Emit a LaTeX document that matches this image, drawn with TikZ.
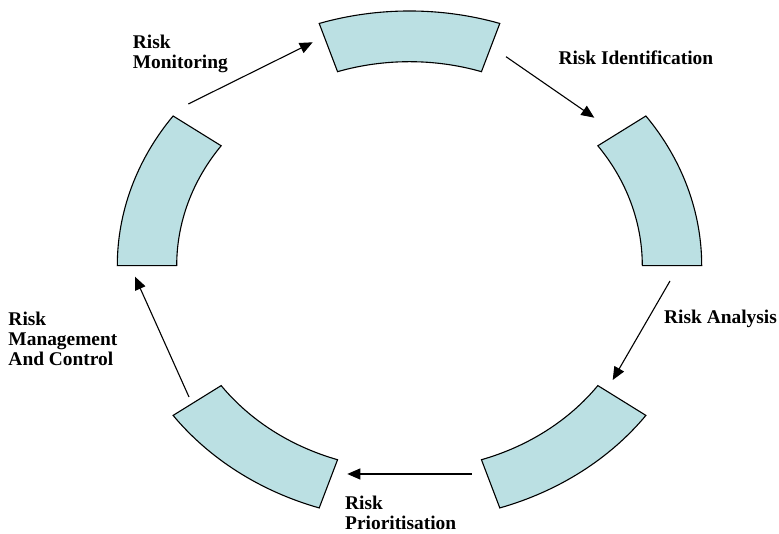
\documentclass[tikz,border=0pt]{standalone}
\usepackage{fontspec}
\setmainfont{Liberation Serif}
\usetikzlibrary{arrows.meta}
\definecolor{segfill}{RGB}{187,224,227}
\begin{document}
\begin{tikzpicture}[x=1pt,y=1pt,
  seg/.style={draw=black, line width=1.1pt, fill=segfill, line join=miter},
  flow/.style={draw=black, line width=1.1pt, -{Triangle[length=13pt,width=11pt]}},
  lbl/.style={font=\bfseries\fontsize{19.4}{20}\selectfont, align=left, inner sep=0pt, anchor=base west}]
\useasboundingbox (0,0) rectangle (779,534);
\begin{scope}[shift={(409.5,268.3)}]
  \foreach \a/\n in {72/top, 0/right, 288/lowright, 216/lowleft, 144/left} {
    \pgfmathsetmacro\b{\a+36}
    \draw[seg] (\a:292.2pt and 254.7pt)
      arc[start angle=\a, end angle=\b, x radius=292.2pt, y radius=254.7pt]
      -- (\b:232.8pt and 204pt)
      arc[start angle=\b, end angle=\a, x radius=232.8pt, y radius=204pt]
      -- cycle;
    \pgfmathsetmacro\c{\a+18}
    \coordinate (seg-\n) at (\c:262.5pt and 229.4pt);
  }
\end{scope}
% arrow end points
\coordinate (m1) at (188.3,430);
\coordinate (m2) at (312.7,491.7);
\coordinate (i1) at (506,477.3);
\coordinate (i2) at (594.3,416.3);
\coordinate (a1) at (670,253);
\coordinate (a2) at (612.7,154);
\coordinate (p1) at (471.7,60);
\coordinate (p2) at (347.3,60);
\coordinate (c1) at (189,137);
\coordinate (c2) at (135,257.3);
\draw[flow] (m1) -- (m2);
\draw[flow] (i1) -- (i2);
\draw[flow] (a1) -- (a2);
\draw[flow] (p1) -- (p2);
\draw[flow] (c1) -- (c2);
% labels (anchor = baseline of last line)
\node[lbl] (lmon) at (132.7,465) {Risk\\Monitoring};
\node[lbl] (lid) at (558.3,469) {Risk Identification};
\node[lbl] (lan) at (664,210.7) {Risk Analysis};
\node[lbl] (lpr) at (345,4) {Risk\\Prioritisation};
\node[lbl] (lmc) at (8.3,168) {Risk\\Management\\And Control};
\end{tikzpicture}
\end{document}
